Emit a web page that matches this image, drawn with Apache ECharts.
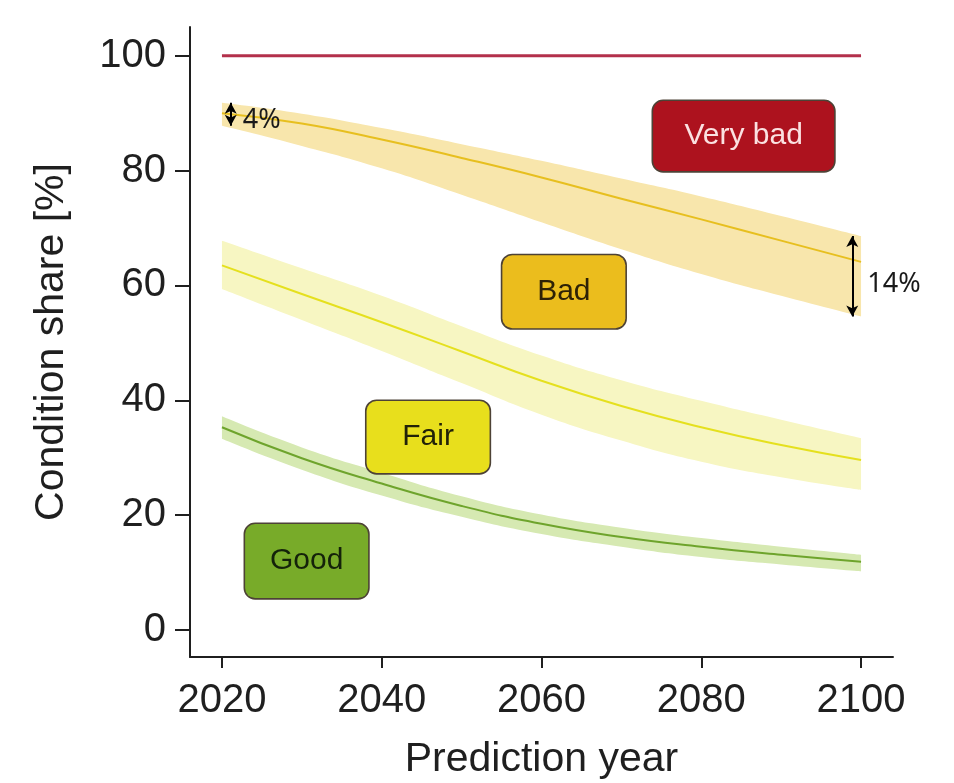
<!DOCTYPE html>
<html>
<head>
<meta charset="utf-8">
<script src="https://cdn.jsdelivr.net/npm/echarts@6/dist/echarts.min.js"></script>
<style>
  html, body { margin: 0; padding: 0; background: #ffffff; }
  #chart { width: 954px; height: 783px; }
</style>
</head>
<body>
<div id="chart"></div>
<script>
// Prediction years and axis ticks
const years = [2020, 2030, 2040, 2050, 2060, 2070, 2080, 2090, 2100];
const xTicks = [2020, 2040, 2060, 2080, 2100];
const yTicks = [0, 20, 40, 60, 80, 100];

// Upper limit of the "Very bad" share (cumulative top)
const veryBadTop = [100, 100, 100, 100, 100, 100, 100, 100, 100];

// Boundary between "Bad" and "Very bad" (cumulative share) with its uncertainty band
const badMid   = [90.0, 88.2, 85.4, 82.2, 78.8, 75.1, 71.5, 67.8, 64.1];
const badUpper = [91.8, 89.9, 87.4, 84.6, 81.7, 78.6, 75.5, 72.1, 68.6];
const badLower = [87.8, 84.3, 80.4, 75.8, 71.0, 66.3, 62.0, 58.2, 54.6];

// Boundary between "Fair" and "Bad"
const fairMid   = [63.5, 58.5, 53.6, 48.5, 43.4, 39.0, 35.3, 32.2, 29.6];
const fairUpper = [67.8, 63.0, 58.2, 52.9, 47.8, 43.5, 39.9, 36.6, 33.4];
const fairLower = [59.4, 54.0, 48.6, 43.0, 37.5, 33.0, 29.3, 26.6, 24.4];

// Boundary between "Good" and "Fair"
const goodMid   = [35.3, 29.9, 25.5, 21.6, 18.5, 16.2, 14.5, 13.1, 11.9];
const goodUpper = [37.2, 31.8, 27.4, 23.3, 20.1, 17.8, 16.0, 14.5, 13.1];
const goodLower = [33.3, 27.9, 23.4, 19.7, 16.7, 14.5, 12.7, 11.4, 10.2];

// Condition classes
const conditionNames = ['Very bad', 'Bad', 'Fair', 'Good'];

const pairs = (ys) => years.map((x, i) => [x, ys[i]]);

const FONT = '"Liberation Sans", Arial, Helvetica, sans-serif';
const NOTE_FONT = '"Noto Sans", "Open Sans", sans-serif';
const INK = '#1f1f1f';

// Uncertainty band as two stacked areas. The share is stored first so that
// it is the dimension that gets stacked; the year is mapped to x via encode.
function band(id, hi, lo, color) {
  const common = {
    type: 'line', stack: id, smooth: true, symbol: 'none', silent: true, z: 1,
    dimensions: [{ name: 'share', type: 'float' }, { name: 'year', type: 'float' }],
    encode: { x: 'year', y: 'share' },
    lineStyle: { width: 0, opacity: 0 }
  };
  return [
    Object.assign({}, common, { data: years.map((x, i) => [lo[i], x]) }),
    Object.assign({}, common, {
      data: years.map((x, i) => [+(hi[i] - lo[i]).toFixed(3), x]),
      areaStyle: { color: color, opacity: 1 }
    })
  ];
}

function midLine(ys, color, width) {
  return {
    type: 'line', data: pairs(ys), smooth: true, symbol: 'none', silent: true, z: 3,
    lineStyle: { color: color, width: width }
  };
}

// Spread arrows and their labels at both ends of the bad/very bad band
const first = 0, last = years.length - 1;
const spreadStart = badUpper[first] - badLower[first];
const spreadEnd = badUpper[last] - badLower[last];
const arrowStartX = 2021.1, arrowEndX = 2098.9;

function classBox(name, x, y, w, h, fill, textColor) {
  return {
    name: name, value: [x, y],
    label: {
      show: true, position: 'inside', formatter: name, opacity: 1,
      width: w, height: h, lineHeight: h, align: 'center', verticalAlign: 'middle',
      backgroundColor: fill, borderColor: '#4d4236', borderWidth: 1.6, borderRadius: 10,
      color: textColor, fontSize: 30, fontFamily: FONT
    }
  };
}

const chart = echarts.init(document.getElementById('chart'), null, { renderer: 'canvas' });

chart.setOption({
  animation: false,
  backgroundColor: '#ffffff',
  grid: { left: 190, right: 61, top: 27, bottom: 126, containLabel: false, outerBoundsMode: 'none' },
  xAxis: {
    type: 'value', min: 2016, max: 2104, z: 10,
    name: 'Prediction year', nameLocation: 'middle', nameGap: 82,
    nameTextStyle: { fontSize: 41, color: INK, fontFamily: FONT },
    axisLine: { show: true, onZero: false, lineStyle: { color: INK, width: 2 } },
    axisTick: { show: true, length: 11, customValues: xTicks, lineStyle: { color: INK, width: 2 } },
    axisLabel: { customValues: xTicks, formatter: (v) => String(v),
                 fontSize: 40, color: INK, fontFamily: FONT, margin: 24 },
    splitLine: { show: false }
  },
  yAxis: {
    type: 'value', min: -4.7, max: 105, z: 10,
    name: 'Condition share [%]', nameLocation: 'middle', nameGap: 118, nameRotate: 90,
    nameTextStyle: { fontSize: 41, color: INK, fontFamily: FONT },
    axisLine: { show: true, onZero: false, lineStyle: { color: INK, width: 2 } },
    axisTick: { show: true, length: 15, customValues: yTicks, lineStyle: { color: INK, width: 2 } },
    axisLabel: { customValues: yTicks, formatter: (v) => String(v),
                 fontSize: 40, color: INK, fontFamily: FONT, margin: 24 },
    splitLine: { show: false }
  },
  series: [
    ...band('badBand', badUpper, badLower, '#f8e6ac'),
    ...band('fairBand', fairUpper, fairLower, '#f7f6c2'),
    ...band('goodBand', goodUpper, goodLower, '#d6e9b2'),
    midLine(badMid, '#e7bf1f', 2),
    midLine(fairMid, '#e5e01e', 2),
    midLine(goodMid, '#6ea42c', 2),
    {
      type: 'line', data: pairs(veryBadTop), symbol: 'none', silent: true, z: 3,
      lineStyle: { color: '#b3304b', width: 3 }
    },
    {
      // double-headed arrows marking the band spread
      type: 'line', data: [], silent: true, z: 5,
      markLine: {
        silent: true, symbol: ['arrow', 'arrow'], symbolSize: [9, 11],
        label: { show: false },
        lineStyle: { color: '#000000', width: 2, type: 'solid' },
        emphasis: { disabled: true },
        data: [
          [{ coord: [arrowStartX, badUpper[first]] }, { coord: [arrowStartX, badLower[first]] }],
          [{ coord: [arrowEndX, badUpper[last]] }, { coord: [arrowEndX, badLower[last]] }]
        ]
      }
    },
    {
      type: 'scatter', symbolSize: 0, silent: true, z: 6,
      itemStyle: { opacity: 1 },
      data: [
        {
          value: [arrowStartX, (badUpper[first] + badLower[first]) / 2],
          label: { show: true, position: 'right', distance: 0, offset: [12, 6], opacity: 1,
                   formatter: Math.round(spreadStart) + '%',
                   fontSize: 27, color: '#1a1a1a', fontFamily: NOTE_FONT }
        },
        {
          value: [arrowEndX, (badUpper[last] + badLower[last]) / 2],
          label: { show: true, position: 'right', distance: 0, offset: [15, 8], opacity: 1,
                   formatter: Math.round(spreadEnd) + '%',
                   fontSize: 27, color: '#1a1a1a', fontFamily: NOTE_FONT }
        }
      ]
    },
    {
      // condition class tags
      type: 'scatter', symbolSize: 0, silent: true, z: 7,
      itemStyle: { opacity: 1 },
      data: [
        classBox(conditionNames[0], 2085.3, 86.0, 181, 70, '#ad121e', '#fbe1e1'),
        classBox(conditionNames[1], 2062.8, 58.9, 123, 73, '#ebbd1d', '#2e2206'),
        classBox(conditionNames[2], 2045.8, 33.6, 123, 72, '#e8df1c', '#222208'),
        classBox(conditionNames[3], 2030.6, 12.0, 123, 74, '#78ab29', '#14220a')
      ]
    }
  ]
});
</script>
</body>
</html>
